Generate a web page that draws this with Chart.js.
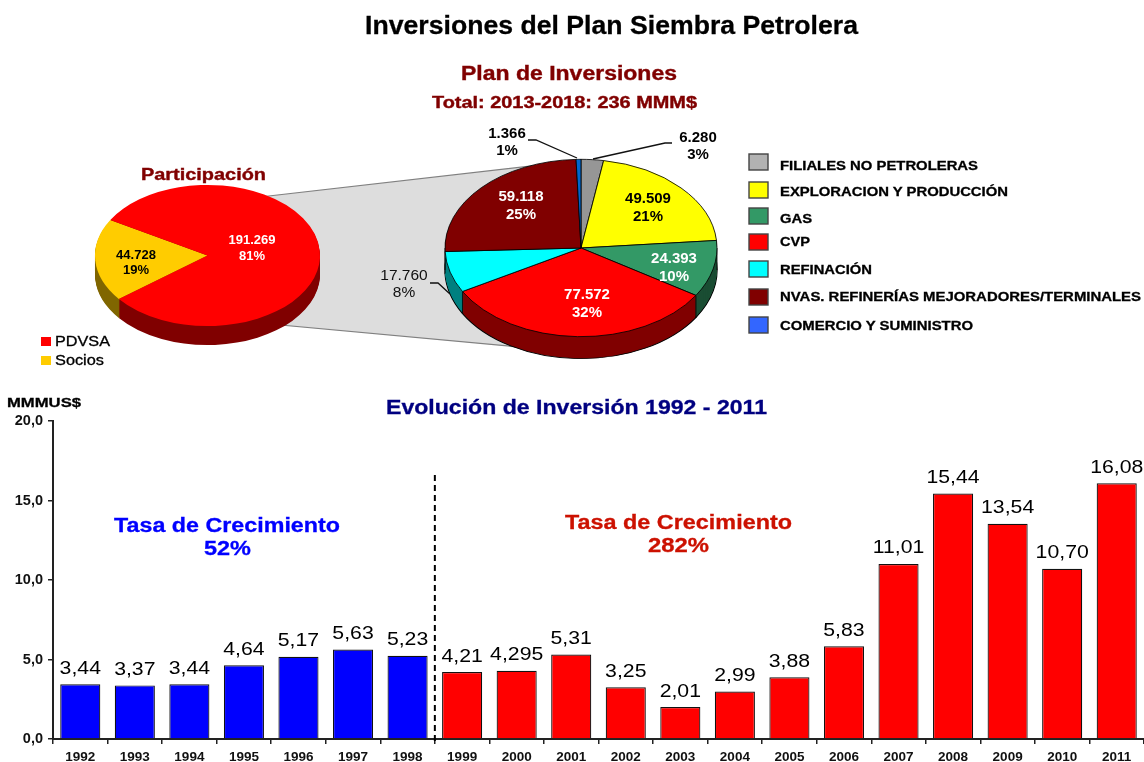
<!DOCTYPE html>
<html>
<head>
<meta charset="utf-8">
<script src="https://cdn.jsdelivr.net/npm/chart.js@4/dist/chart.umd.min.js"></script>
<style>
  html, body { margin: 0; padding: 0; background: #fff; overflow: hidden; }
  canvas, svg { position: absolute; }
  text { font-family: "Liberation Sans", Arial, sans-serif; }
</style>
</head>
<body>
<svg id="back" width="1144" height="762" style="left:0;top:0">
  <polygon points="260,197 540,165 540,349 270,324" fill="#dddddd" stroke="#808080" stroke-width="1.2"/>
</svg>
<canvas id="pieLeft" width="301" height="301" style="left:57px;top:105px"></canvas>
<canvas id="pieRight" width="420" height="420" style="left:371px;top:38px"></canvas>
<canvas id="bars" width="1144" height="377" style="left:0;top:385px"></canvas>
<svg id="front" width="1144" height="762" style="left:0;top:0"></svg>
<script>
// participacion
const shareNames = ['Socios', 'PDVSA'];
const shareValues = [44728, 191269];
const sharePct = ['19%', '81%'];

// plan de inversiones
const planNames = ['FILIALES NO PETROLERAS', 'EXPLORACION Y PRODUCCIÓN', 'GAS', 'CVP', 'REFINACIÓN', 'NVAS. REFINERÍAS MEJORADORES/TERMINALES', 'COMERCIO Y SUMINISTRO'];
const planValues = [6280, 49509, 24393, 77572, 17760, 59118, 1366];
const planPct = ['3%', '21%', '10%', '32%', '8%', '25%', '1%'];

// evolucion
const years = ['1992', '1993', '1994', '1995', '1996', '1997', '1998', '1999', '2000', '2001', '2002', '2003', '2004', '2005', '2006', '2007', '2008', '2009', '2010', '2011'];
const investment = [3.44, 3.37, 3.44, 4.64, 5.17, 5.63, 5.23, 4.21, 4.295, 5.31, 3.25, 2.01, 2.99, 3.88, 5.83, 11.01, 15.44, 13.54, 10.70, 16.08];
const investmentLabels = ['3,44', '3,37', '3,44', '4,64', '5,17', '5,63', '5,23', '4,21', '4,295', '5,31', '3,25', '2,01', '2,99', '3,88', '5,83', '11,01', '15,44', '13,54', '10,70', '16,08'];
const firstPeriodYears = 7;

const FONT = '"Liberation Sans", Arial, sans-serif';
const thousands = v => v.toLocaleString('de-DE');

// squashes the pie into an ellipse and adds the rim
const tiltedPie = {
  id: 'tiltedPie',
  beforeDatasetsDraw(chart, args, opts) {
    const ctx = chart.ctx;
    const arcs = chart.getDatasetMeta(0).data;
    const cx = arcs[0].x, cy = arcs[0].y, R = arcs[0].outerRadius;
    ctx.save();
    ctx.translate(cx, cy);
    ctx.scale(1, opts.squash);
    ctx.translate(-cx, -cy);
    const step = 1 / opts.squash;
    for (let d = opts.depth; d >= 1; d--) {
      ctx.save();
      ctx.translate(0, d * step);
      arcs.forEach((arc, i) => {
        const ghost = Object.create(arc);
        ghost.options = Object.create(arc.options);
        ghost.options.backgroundColor = opts.rim[i];
        ghost.options.borderColor = opts.outline && d === opts.depth ? '#000' : opts.rim[i];
        ghost.options.borderWidth = opts.outline && d === opts.depth ? 1.3 : 0;
        ghost.draw(ctx);
      });
      ctx.restore();
    }
    if (opts.outline) {
      const angles = arcs.map(a => a.startAngle).concat([0, Math.PI]);
      ctx.strokeStyle = '#000';
      ctx.lineWidth = 1;
      angles.forEach(a => {
        if (Math.sin(a) < -0.001) return;
        const x = cx + R * Math.cos(a), y = cy + R * Math.sin(a);
        ctx.beginPath();
        ctx.moveTo(x, y);
        ctx.lineTo(x, y + opts.depth * step);
        ctx.stroke();
      });
    }
  },
  afterDatasetsDraw(chart, args, opts) {
    const ctx = chart.ctx;
    ctx.restore();
    ctx.save();
    ctx.translate(-chart.canvas.offsetLeft, -chart.canvas.offsetTop);
    ctx.strokeStyle = '#111';
    ctx.lineWidth = 1.3;
    (opts.leaders || []).forEach(pts => {
      ctx.beginPath();
      pts.forEach((p, i) => i ? ctx.lineTo(p[0], p[1]) : ctx.moveTo(p[0], p[1]));
      ctx.stroke();
    });
    ctx.textAlign = 'center';
    ctx.textBaseline = 'alphabetic';
    chart.data.datasets[0].data.forEach((v, i) => {
      const s = opts.labels[i];
      ctx.font = s.font;
      ctx.fillStyle = s.color;
      ctx.fillText(thousands(v), s.x, s.y);
      ctx.fillText(opts.pct[i], s.x, s.y + s.gap);
    });
    ctx.restore();
  }
};

function pieChart(id, names, values, colors, rotation, borderWidth, tilt) {
  return new Chart(document.getElementById(id), {
    type: 'pie',
    data: {
      labels: names,
      datasets: [{
        data: values,
        backgroundColor: colors,
        borderColor: '#000',
        borderWidth: borderWidth,
        clip: false
      }]
    },
    options: {
      responsive: false,
      animation: false,
      devicePixelRatio: 1,
      rotation: rotation,
      layout: { padding: tilt.padding },
      plugins: { legend: { display: false }, tooltip: { enabled: false }, tiltedPie: tilt }
    },
    plugins: [tiltedPie]
  });
}

const whiteB13 = { font: 'bold 13px ' + FONT, color: '#fff', gap: 16 };
const blackB13 = { font: 'bold 13px ' + FONT, color: '#000', gap: 15 };
pieChart('pieLeft', shareNames, shareValues, ['#ffcc00', '#ff0000'], 232, 0, {
  padding: 38,
  squash: 0.627,
  depth: 19,
  rim: ['#806600', '#800000'],
  pct: sharePct,
  labels: [
    Object.assign({ x: 136, y: 259 }, blackB13),
    Object.assign({ x: 252, y: 244 }, whiteB13)
  ]
});

const bold15 = c => ({ font: 'bold 15px ' + FONT, color: c, gap: 18 });
pieChart('pieRight', planNames, planValues, ['#969696', '#ffff00', '#339966', '#ff0000', '#00ffff', '#800000', '#0066cc'], 0, 1, {
  padding: 73.5,
  squash: 0.652,
  depth: 22,
  outline: true,
  rim: ['#4b4b4b', '#808000', '#1a4d33', '#800000', '#008080', '#400000', '#003366'],
  pct: planPct,
  leaders: [
    [[593, 159], [665, 143], [672, 143]],
    [[528, 140], [536, 140], [577, 158]],
    [[430, 283], [438, 283], [450, 294]]
  ],
  labels: [
    Object.assign(bold15('#000'), { x: 698, y: 142, gap: 17 }),
    Object.assign(bold15('#000'), { x: 648, y: 203 }),
    Object.assign(bold15('#fff'), { x: 674, y: 263 }),
    Object.assign(bold15('#fff'), { x: 587, y: 299 }),
    { x: 404, y: 280, gap: 17, font: '15.5px ' + FONT, color: '#111' },
    Object.assign(bold15('#fff'), { x: 521, y: 201 }),
    Object.assign(bold15('#000'), { x: 507, y: 138, gap: 17 })
  ]
});

// value labels and the dashed divider
const barExtras = {
  id: 'barExtras',
  afterDatasetsDraw(chart) {
    const ctx = chart.ctx;
    const x = chart.scales.x, y = chart.scales.y;
    ctx.save();
    ctx.font = '18px ' + FONT;
    ctx.fillStyle = '#000';
    ctx.textAlign = 'center';
    chart.getDatasetMeta(0).data.forEach((bar, i) => {
      ctx.save();
      ctx.translate(bar.x, bar.y - 10.5);
      ctx.scale(1.18, 1);
      ctx.fillText(investmentLabels[i], 0, 0);
      ctx.restore();
    });
    const dx = (x.getPixelForValue(firstPeriodYears - 1) + x.getPixelForValue(firstPeriodYears)) / 2;
    ctx.strokeStyle = '#000';
    ctx.lineWidth = 2;
    ctx.setLineDash([6, 4]);
    ctx.beginPath();
    ctx.moveTo(dx, y.getPixelForValue(16.6));
    ctx.lineTo(dx, y.getPixelForValue(0) + 6);
    ctx.stroke();
    ctx.restore();
  }
};

new Chart(document.getElementById('bars'), {
  type: 'bar',
  data: {
    labels: years,
    datasets: [{
      data: investment,
      backgroundColor: years.map((y, i) => i < firstPeriodYears ? '#0000ff' : '#ff0000'),
      borderColor: '#111',
      borderWidth: 1.2,
      barPercentage: 0.735,
      categoryPercentage: 1
    }]
  },
  options: {
    responsive: false,
    animation: false,
    devicePixelRatio: 1,
    layout: { padding: { top: 36, right: 0, left: 0, bottom: 0 } },
    plugins: { legend: { display: false }, tooltip: { enabled: false } },
    scales: {
      x: {
        afterFit(s) { s.height = 23; },
        grid: { offset: true, drawOnChartArea: false, color: '#222', tickLength: 5, lineWidth: 1.5 },
        border: { color: '#222', width: 2 },
        ticks: { color: '#111', font: { family: FONT, size: 13.5, weight: 'bold' }, maxRotation: 0, autoSkip: false, padding: 5 }
      },
      y: {
        min: 0,
        max: 20,
        afterFit(s) { s.width = 53; },
        grid: { drawOnChartArea: false, color: '#222', tickLength: 5, lineWidth: 1.5 },
        border: { color: '#222', width: 2 },
        ticks: {
          stepSize: 5,
          color: '#111',
          padding: 5,
          font: { family: FONT, size: 14.5, weight: 'bold' },
          callback: v => v.toFixed(1).replace('.', ',')
        }
      }
    }
  },
  plugins: [barExtras]
});

// page text, stretched to the widths of the original slide
const front = document.getElementById('front');
const NS = 'http://www.w3.org/2000/svg';
function put(tag, attrs, content) {
  const el = document.createElementNS(NS, tag);
  for (const k in attrs) el.setAttribute(k, attrs[k]);
  if (content) el.textContent = content;
  front.appendChild(el);
}
function label(str, x, y, width, size, color, heavy) {
  put('text', {
    x: x, y: y, textLength: width, lengthAdjust: 'spacingAndGlyphs',
    'font-size': size, 'font-weight': 'bold', fill: color,
    stroke: heavy ? color : 'none', 'stroke-width': heavy || 0
  }, str);
}
label('Inversiones del Plan Siembra Petrolera', 365, 34, 493, 26, '#000', 0.3);
label('Plan de Inversiones', 461, 80, 216, 20, '#800000', 0.4);
label('Total: 2013-2018: 236 MMM$', 432, 108, 265, 16, '#800000', 0.4);
label('Participación', 141, 180, 125, 17, '#800000', 0.4);
label('MMMUS$', 7, 407, 74, 13.5, '#000', 0.3);
label('Evolución de Inversión 1992 - 2011', 386, 414, 381, 20, '#000080', 0.3);
label('Tasa de Crecimiento', 114, 532, 226, 20, '#0000ff', 0.3);
label('52%', 204, 555, 47, 20, '#0000ff', 0.3);
label('Tasa de Crecimiento', 565, 529, 227, 20, '#cc1100', 0.3);
label('282%', 648, 552, 61, 20, '#cc1100', 0.3);

// legends
const shareLegend = [['PDVSA', '#ff0000', 342, 55], ['Socios', '#ffcc00', 361, 49]];
shareLegend.forEach(s => {
  put('rect', { x: 41, y: s[2] - 5, width: 10, height: 9, fill: s[1] });
  put('text', { x: 55, y: s[2] + 4, textLength: s[3], lengthAdjust: 'spacingAndGlyphs', 'font-size': 14, fill: '#000', stroke: '#000', 'stroke-width': 0.3 }, s[0]);
});
const swatches = ['#b2b2b2', '#ffff00', '#339966', '#ff0000', '#00ffff', '#800000', '#3366ff'];
const legendY = [162, 190, 216, 242, 269, 297, 325];
const legendText = [170, 196, 223, 246, 274, 301, 330];
const legendW = [198, 228, 32, 30, 92, 361, 193];
planNames.forEach((n, i) => {
  put('rect', { x: 749, y: legendY[i] - 8, width: 19, height: 16, fill: swatches[i], stroke: '#444', 'stroke-width': 1.4 });
  label(n, 780, legendText[i], legendW[i], 12.5, '#000', 0.3);
});
</script>
</body>
</html>
